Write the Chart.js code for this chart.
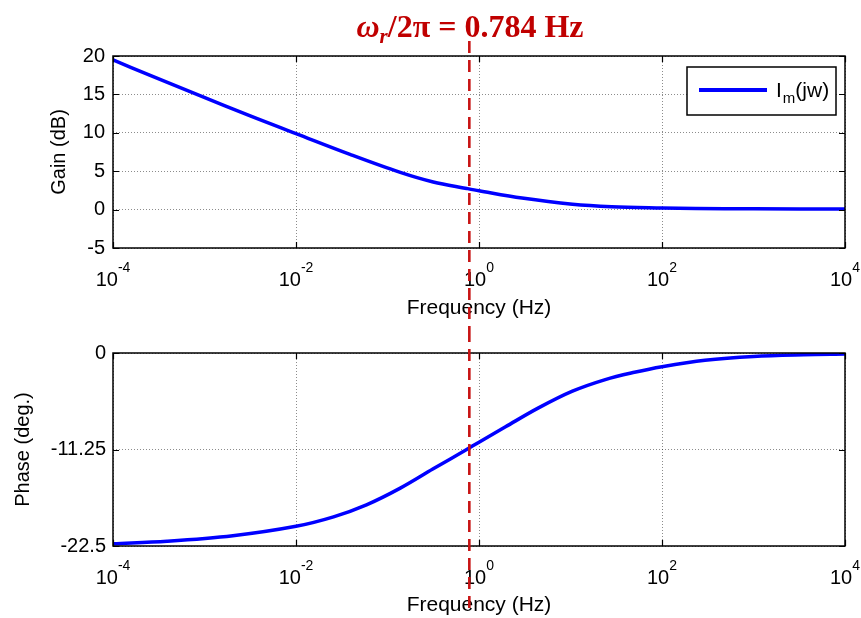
<!DOCTYPE html>
<html><head><meta charset="utf-8">
<script src="https://cdn.jsdelivr.net/npm/chart.js@4.4.1/dist/chart.umd.min.js"></script>
<style>
html,body{margin:0;padding:0;background:#fff;width:861px;height:618px;overflow:hidden;}
#w1{position:absolute;left:0;top:0;width:861px;height:330px;}
#w2{position:absolute;left:0;top:330px;width:861px;height:288px;}
canvas{display:block;}
</style></head><body>
<div id="w1"><canvas id="c1" width="861" height="330"></canvas></div>
<div id="w2"><canvas id="c2" width="861" height="288"></canvas></div>
<script>
// ---- data ----
const gainFrequencyHz = [1e-4, 2.51e-4, 8.91e-4, 3.16e-3, 1e-2, 0.0389, 0.138, 0.316, 0.733, 1, 2.95, 10.5, 28.2, 100, 234, 1000, 1e4];
const gainDb          = [19.5, 17.5, 14.85, 12.2, 9.9, 7.2, 4.85, 3.6, 2.75, 2.45, 1.5, 0.7, 0.38, 0.22, 0.15, 0.1, 0.07];
const phaseFrequencyHz = [1e-4, 3.9e-4, 2.04e-3, 1e-2, 0.0257, 0.0589, 0.138, 0.316, 0.733, 1, 1.95, 4.47, 10.5, 24, 50, 100, 295, 1000, 3548, 1e4];
const phaseDeg         = [-22.25, -21.95, -21.3, -20.2, -19.1, -17.7, -15.75, -13.5, -11.25, -10.4, -8.6, -6.4, -4.45, -3.1, -2.25, -1.6, -0.85, -0.4, -0.2, -0.12];
const xTickValues = [1e-4, 1e-2, 1, 1e2, 1e4];
const xTickExponents = ['-4', '-2', '0', '2', '4'];
const gainTicks = [-5, 0, 5, 10, 15, 20];
const phaseTicks = [-22.5, -11.25, 0];
const resonanceHz = 0.784;
const seriesLabel = 'Im(jw)';

const SANS = '"Liberation Sans", Arial, Helvetica, sans-serif';
const SERIF = '"Liberation Serif", "Times New Roman", serif';
const BLUE = '#0000ff';
const RED = '#c81414';

function xScaleOpts(titleBottomPad) {
  return {
    type: 'logarithmic', min: 1e-4, max: 1e4,
    afterBuildTicks: s => { s.ticks = xTickValues.map(v => ({value: v})); },
    ticks: {display: false},
    grid: {color: 'rgba(0,0,0,0.45)', lineWidth: 1, drawTicks: false},
    border: {display: false, dash: [1, 2]},
    title: {display: true, text: 'Frequency (Hz)', color: '#000',
            font: {family: SANS, size: 21, lineHeight: 1.2}, padding: {top: 0, bottom: titleBottomPad}}
  };
}

function frameAndTicks(chart, ctx) {
  const a = chart.chartArea, xs = chart.scales.x, ys = chart.scales.y;
  ctx.save();
  ctx.strokeStyle = '#000'; ctx.lineWidth = 1.5; ctx.setLineDash([]);
  ctx.strokeRect(a.left, a.top, a.right - a.left, a.bottom - a.top);
  ctx.lineWidth = 1.2;
  const L = 6;
  ctx.beginPath();
  xs.ticks.forEach(t => {
    const px = Math.round(xs.getPixelForValue(t.value)) + 0.5;
    ctx.moveTo(px, a.bottom); ctx.lineTo(px, a.bottom - L);
    ctx.moveTo(px, a.top); ctx.lineTo(px, a.top + L);
  });
  ys.ticks.forEach(t => {
    const py = Math.round(ys.getPixelForValue(t.value)) + 0.5;
    ctx.moveTo(a.left, py); ctx.lineTo(a.left + L, py);
    ctx.moveTo(a.right, py); ctx.lineTo(a.right - L, py);
  });
  ctx.stroke();
  // power-of-ten tick labels
  ctx.fillStyle = '#000'; ctx.textBaseline = 'alphabetic'; ctx.textAlign = 'left';
  const baseY = a.bottom + 38;
  xTickValues.forEach((v, i) => {
    const px = xs.getPixelForValue(v);
    ctx.font = '20px ' + SANS; const wb = ctx.measureText('10').width;
    ctx.font = '14px ' + SANS; const we = ctx.measureText(xTickExponents[i]).width;
    const x0 = px - (wb + we) / 2;
    ctx.font = '20px ' + SANS; ctx.fillText('10', x0, baseY);
    ctx.font = '14px ' + SANS; ctx.fillText(xTickExponents[i], x0 + wb, baseY - 14);
  });
  ctx.restore();
}

function resonanceLine(chart, ctx, y0, y1) {
  const px = chart.scales.x.getPixelForValue(resonanceHz);
  ctx.save();
  ctx.strokeStyle = RED; ctx.lineWidth = 2.6; ctx.setLineDash([12, 7]);
  ctx.beginPath(); ctx.moveTo(px, y0); ctx.lineTo(px, y1); ctx.stroke();
  ctx.restore();
}

const topPlugin = {
  id: 'topDecor',
  afterDatasetsDraw(chart) {
    const ctx = chart.ctx, a = chart.chartArea;
    frameAndTicks(chart, ctx);
    resonanceLine(chart, ctx, 41, chart.height);
    // legend
    const bx = a.right - 158, by = a.top + 11, bw = 149, bh = 48;
    ctx.save();
    ctx.fillStyle = '#fff'; ctx.fillRect(bx, by, bw, bh);
    ctx.strokeStyle = '#000'; ctx.lineWidth = 1.5; ctx.strokeRect(bx, by, bw, bh);
    ctx.strokeStyle = BLUE; ctx.lineWidth = 4;
    ctx.beginPath(); ctx.moveTo(bx + 12, by + 23); ctx.lineTo(bx + 80, by + 23); ctx.stroke();
    ctx.fillStyle = '#000'; ctx.textBaseline = 'alphabetic'; ctx.textAlign = 'left';
    let tx = bx + 89; const tb = by + 30;
    ctx.font = '21px ' + SANS; ctx.fillText(seriesLabel.slice(0, 1), tx, tb); tx += ctx.measureText(seriesLabel.slice(0, 1)).width + 1;
    ctx.font = '15px ' + SANS; ctx.fillText(seriesLabel.slice(1, 2), tx, tb + 6); tx += ctx.measureText(seriesLabel.slice(1, 2)).width;
    ctx.font = '21px ' + SANS; ctx.fillText(seriesLabel.slice(2), tx, tb);
    // title
    const pieces = [
      {t: 'ω', f: 'italic bold 32px ' + SERIF, dy: 0},
      {t: 'r', f: 'italic bold 21px ' + SERIF, dy: 6},
      {t: '/2π = 0.784 Hz', f: 'bold 32px ' + SERIF, dy: 0}
    ];
    let total = 0;
    pieces.forEach(p => { ctx.font = p.f; p.w = ctx.measureText(p.t).width; total += p.w; });
    let x = 470 - total / 2;
    ctx.fillStyle = '#c00000';
    pieces.forEach(p => { ctx.font = p.f; ctx.fillText(p.t, x, 37 + p.dy); x += p.w; });
    ctx.restore();
  }
};

const bottomPlugin = {
  id: 'bottomDecor',
  afterDatasetsDraw(chart) {
    const ctx = chart.ctx;
    frameAndTicks(chart, ctx);
    resonanceLine(chart, ctx, 0, 282);
  }
};

function lineDataset(freqs, values) {
  return {
    label: seriesLabel,
    data: freqs.map((f, i) => ({x: f, y: values[i]})),
    borderColor: BLUE, backgroundColor: BLUE, borderWidth: 3.5,
    pointRadius: 0, tension: 0.35, fill: false
  };
}

new Chart(document.getElementById('c1'), {
  type: 'line',
  data: {datasets: [lineDataset(gainFrequencyHz, gainDb)]},
  options: {
    responsive: false, animation: false, devicePixelRatio: 1,
    layout: {padding: {top: 56, right: 16, left: 0, bottom: 0}},
    plugins: {legend: {display: false}, tooltip: {enabled: false}},
    scales: {
      x: Object.assign(xScaleOpts(9), {afterFit: s => { s.height = 82; }}),
      y: {
        min: -5, max: 20,
        afterBuildTicks: s => { s.ticks = gainTicks.map(v => ({value: v})); },
        afterFit: s => { s.width = 113; },
        ticks: {color: '#000', font: {family: SANS, size: 20}, padding: 8, callback: v => String(v)},
        grid: {color: 'rgba(0,0,0,0.45)', lineWidth: 1, drawTicks: false},
        border: {display: false, dash: [1, 2]},
        title: {display: true, text: 'Gain (dB)', color: '#000',
                font: {family: SANS, size: 20, lineHeight: 1.2}, padding: {top: 47, bottom: 0}}
      }
    }
  },
  plugins: [topPlugin]
});

new Chart(document.getElementById('c2'), {
  type: 'line',
  data: {datasets: [lineDataset(phaseFrequencyHz, phaseDeg)]},
  options: {
    responsive: false, animation: false, devicePixelRatio: 1,
    layout: {padding: {top: 23, right: 16, left: 0, bottom: 0}},
    plugins: {legend: {display: false}, tooltip: {enabled: false}},
    scales: {
      x: Object.assign(xScaleOpts(0), {afterFit: s => { s.height = 72; }}),
      y: {
        min: -22.5, max: 0,
        afterBuildTicks: s => { s.ticks = phaseTicks.map(v => ({value: v})); },
        afterFit: s => { s.width = 113; },
        ticks: {color: '#000', font: {family: SANS, size: 20}, padding: 7, callback: v => String(v)},
        grid: {color: 'rgba(0,0,0,0.45)', lineWidth: 1, drawTicks: false},
        border: {display: false, dash: [1, 2]},
        title: {display: true, text: 'Phase (deg.)', color: '#000',
                font: {family: SANS, size: 20, lineHeight: 1.2}, padding: {top: 11, bottom: 0}}
      }
    }
  },
  plugins: [bottomPlugin]
});
</script>
</body></html>
